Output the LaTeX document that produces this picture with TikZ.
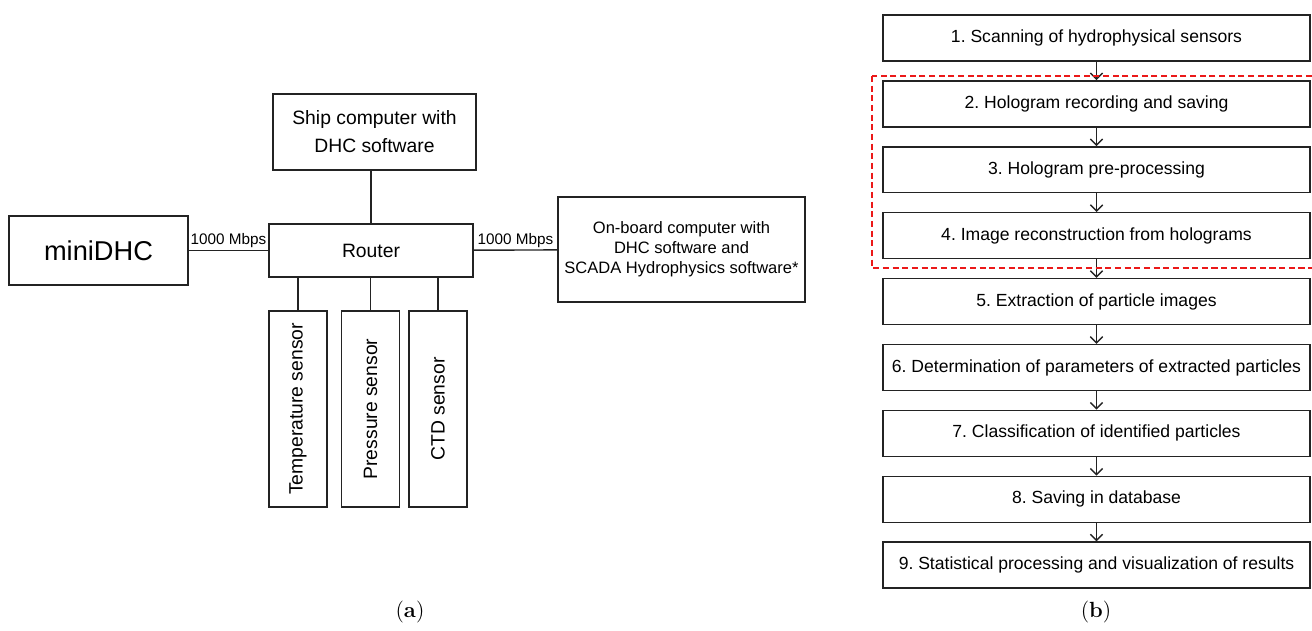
\documentclass[tikz,border=0pt]{standalone}
\usepackage{fontspec}
\newfontfamily\arial{Liberation Sans}
\usetikzlibrary{arrows.meta, positioning}
\definecolor{boxline}{RGB}{35,35,35}
\definecolor{markred}{RGB}{235,25,25}
\frenchspacing

\begin{document}
\begin{tikzpicture}[x=0.02cm, y=-0.02cm,
    block/.style={rectangle, draw=boxline, line width=0.8pt, text centered, inner sep=0pt},
    stepbox/.style={block, minimum width=8.54cm, minimum height=0.92cm, font=\arial\fontsize{10}{12}\selectfont},
    sensor/.style={block, rotate=90, minimum width=3.92cm, minimum height=1.16cm, font=\arial\fontsize{11}{13}\selectfont},
    link/.style={draw=boxline, line width=0.8pt},
    arrow/.style={-{Straight Barb[length=3.5pt,width=7pt]}, draw=boxline, line width=0.8pt},
    node distance=0.37cm
]
\useasboundingbox (0,0) rectangle (1312,630);

% Network of the holographic camera
\node[block, minimum width=3.58cm, minimum height=1.38cm, font=\arial\fontsize{15.5}{18}\selectfont] (mini) at (98.5,250.5) {miniDHC};
\node[block, minimum width=4.08cm, minimum height=1.06cm, font=\arial\fontsize{11}{13}\selectfont] (router) at (371,250.5) {Router};
\node[block, minimum width=4.06cm, minimum height=1.52cm, align=center, font=\arial\fontsize{11}{16}\selectfont] (ship) at (374.5,132) {Ship computer with\\DHC software};
\node[block, minimum width=4.94cm, minimum height=2.1cm, align=center, font=\arial\fontsize{9.4}{11.3}\selectfont] (board) at (681.5,249.5) {On-board computer with\\DHC software and\\SCADA Hydrophysics software*};

% Sensors
\node[sensor] (temp) at (298,409) {Temperature sensor};
\node[sensor] (press) at (370.5,409) {Pressure sensor};
\node[sensor] (ctd) at (438,409) {CTD sensor};

% Links
\draw[link] (mini) -- node[above=1pt, inner sep=0pt, font=\arial\fontsize{8.7}{10}\selectfont] {1000 Mbps} (router);
\draw[link] (router) -- node[above=1pt, inner sep=0pt, font=\arial\fontsize{8.7}{10}\selectfont] {1000 Mbps} (board);
\draw[link] (router.north) -- (router.north |- ship.south);
\draw[link] (router.south -| temp.east) -- (temp.east);
\draw[link] (router.south -| press.east) -- (press.east);
\draw[link] (router.south -| ctd.east) -- (ctd.east);

% Processing steps
\node[stepbox] (s1) at (1096.5,38) {1. Scanning of hydrophysical sensors};
\node[stepbox, below=of s1] (s2) {2. Hologram recording and saving};
\node[stepbox, below=of s2] (s3) {3. Hologram pre-processing};
\node[stepbox, below=of s3] (s4) {4. Image reconstruction from holograms};
\node[stepbox, below=of s4] (s5) {5. Extraction of particle images};
\node[stepbox, below=of s5] (s6) {6. Determination of parameters of extracted particles};
\node[stepbox, below=of s6] (s7) {7. Classification of identified particles};
\node[stepbox, below=of s7] (s8) {8. Saving in database};
\node[stepbox, below=of s8] (s9) {9. Statistical processing and visualization of results};

\draw[arrow] (s1) -- (s2);
\draw[arrow] (s2) -- (s3);
\draw[arrow] (s3) -- (s4);
\draw[arrow] (s4) -- (s5);
\draw[arrow] (s5) -- (s6);
\draw[arrow] (s6) -- (s7);
\draw[arrow] (s7) -- (s8);
\draw[arrow] (s8) -- (s9);

% Hologram block
\draw[markred, line width=1.4pt, dash pattern=on 3.5pt off 2pt] (872,76) rectangle (1330,268);

% Captions
\node[font=\fontsize{12.5}{14}\selectfont] (capa) at (410,612) {(\textbf{a})};
\node[font=\fontsize{12.5}{14}\selectfont] (capb) at (1096,612) {(\textbf{b})};
\end{tikzpicture}
\end{document}
